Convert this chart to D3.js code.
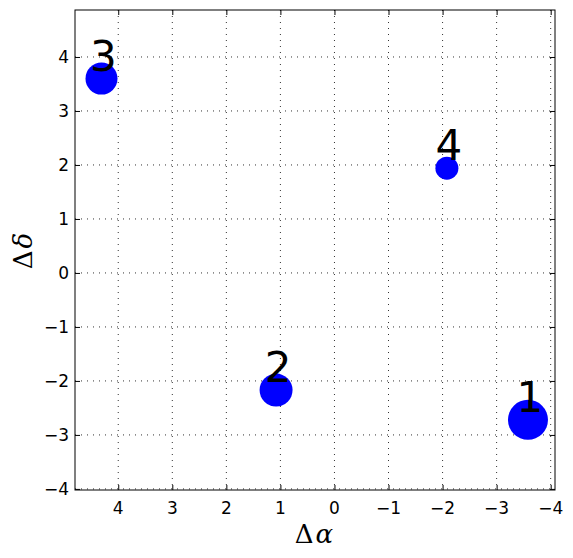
<!DOCTYPE html>
<html>
<head>
<meta charset="utf-8">
<script src="https://cdn.jsdelivr.net/npm/d3@7"></script>
<style>
body { margin: 0; background: #fff; }
svg { display: block; }
.lab { font-family: "DejaVu Serif", serif; font-size: 26px; fill: #000; letter-spacing: 2px; }
.num { font-family: "DejaVu Sans", sans-serif; font-size: 42px; fill: #000; }
.tl { font-family: "DejaVu Sans", sans-serif; font-size: 17px; fill: #000; }
</style>
</head>
<body>
<div id="chart"></div>
<script>
// datos de las fuentes
var ids = ["1", "2", "3", "4"];
var d_alpha = [-3.58, 1.08, 4.31, -2.08];
var d_delta = [-2.72, -2.17, 3.60, 1.94];
var flux = [1.0, 0.68, 0.64, 0.33];

var x_ticks = [4, 3, 2, 1, 0, -1, -2, -3, -4];
var y_ticks = [-4, -3, -2, -1, 0, 1, 2, 3, 4];

var width = 573,
	height = 558;
var margin = {left: 75, top: 10, right: 18, bottom: 68};
var w = width - margin.left - margin.right,
	h = height - margin.top - margin.bottom;

var x_scale = d3.scaleLinear()
	.domain([4.8, -4.08])
	.range([0, w]);

var y_scale = d3.scaleLinear()
	.domain([-4.02, 4.87])
	.range([h, 0]);

var r_scale = d3.scaleSqrt()
	.domain([0, 1])
	.range([0, 20]);

function fmt(d) { return d < 0 ? "\u2212" + (-d) : "" + d; }

var svg = d3.select("#chart")
	.append("svg")
	.attr("width", width)
	.attr("height", height);

var g = svg.append("g")
	.attr("transform", "translate(" + margin.left + "," + margin.top + ")");

// grid punteado
g.selectAll(".gx")
	.data(x_ticks)
	.enter()
	.append("line")
		.attr("x1", function(d) { return x_scale(d); })
		.attr("x2", function(d) { return x_scale(d); })
		.attr("y1", 0)
		.attr("y2", h)
		.attr("stroke", "#333")
		.attr("stroke-width", 1)
		.attr("stroke-dasharray", "1,5");

g.selectAll(".gy")
	.data(y_ticks)
	.enter()
	.append("line")
		.attr("y1", function(d) { return y_scale(d); })
		.attr("y2", function(d) { return y_scale(d); })
		.attr("x1", 0)
		.attr("x2", w)
		.attr("stroke", "#333")
		.attr("stroke-width", 1)
		.attr("stroke-dasharray", "1,5");

// ejes con ticks hacia dentro (etiquetas aparte)
var x_axis = d3.axisBottom(x_scale).tickValues(x_ticks).tickFormat("").tickSizeInner(-5).tickSizeOuter(0);
var y_axis = d3.axisLeft(y_scale).tickValues(y_ticks).tickFormat("").tickSizeInner(-5).tickSizeOuter(0);
var x_top = d3.axisTop(x_scale).tickValues(x_ticks).tickFormat("").tickSizeInner(-5).tickSizeOuter(0);
var y_right = d3.axisRight(y_scale).tickValues(y_ticks).tickFormat("").tickSizeInner(-5).tickSizeOuter(0);

g.append("g").attr("transform", "translate(0," + h + ")").call(x_axis);
g.append("g").call(y_axis);
g.append("g").call(x_top);
g.append("g").attr("transform", "translate(" + w + ",0)").call(y_right);
g.selectAll(".domain").remove();

g.selectAll(".xl")
	.data(x_ticks)
	.enter()
	.append("text")
		.attr("class", "tl")
		.attr("x", function(d) { return x_scale(d); })
		.attr("y", h + 24)
		.attr("text-anchor", "middle")
		.text(fmt);

g.selectAll(".yl")
	.data(y_ticks)
	.enter()
	.append("text")
		.attr("class", "tl")
		.attr("x", -6)
		.attr("y", function(d) { return y_scale(d) + 6; })
		.attr("text-anchor", "end")
		.text(fmt);

g.append("rect")
	.attr("width", w)
	.attr("height", h)
	.attr("fill", "none")
	.attr("stroke", "#000")
	.attr("stroke-width", 1);

var data = ids.map(function(id, i) {
	return {id: id, x: d_alpha[i], y: d_delta[i], f: flux[i]};
});

g.selectAll("circle")
	.data(data)
	.enter()
	.append("circle")
		.attr("cx", function(d) { return x_scale(d.x); })
		.attr("cy", function(d) { return y_scale(d.y); })
		.attr("r", function(d) { return r_scale(d.f); })
		.attr("fill", "#0000ff");

g.selectAll(".num")
	.data(data)
	.enter()
	.append("text")
		.attr("class", "num")
		.attr("x", function(d) { return x_scale(d.x) + 2; })
		.attr("y", function(d) { return y_scale(d.y) - 8; })
		.attr("text-anchor", "middle")
		.text(function(d) { return d.id; });

// etiquetas de ejes
var xl = svg.append("text")
	.attr("class", "lab")
	.attr("x", margin.left + w / 2)
	.attr("y", 543)
	.attr("text-anchor", "middle");
xl.append("tspan").text("\u0394");
xl.append("tspan").attr("font-style", "italic").text("\u03b1");

var yl = svg.append("text")
	.attr("class", "lab")
	.attr("transform", "translate(32," + (margin.top + h / 2) + ") rotate(-90)")
	.attr("text-anchor", "middle");
yl.append("tspan").text("\u0394");
yl.append("tspan").attr("font-style", "italic").text("\u03b4");
</script>
</body>
</html>
